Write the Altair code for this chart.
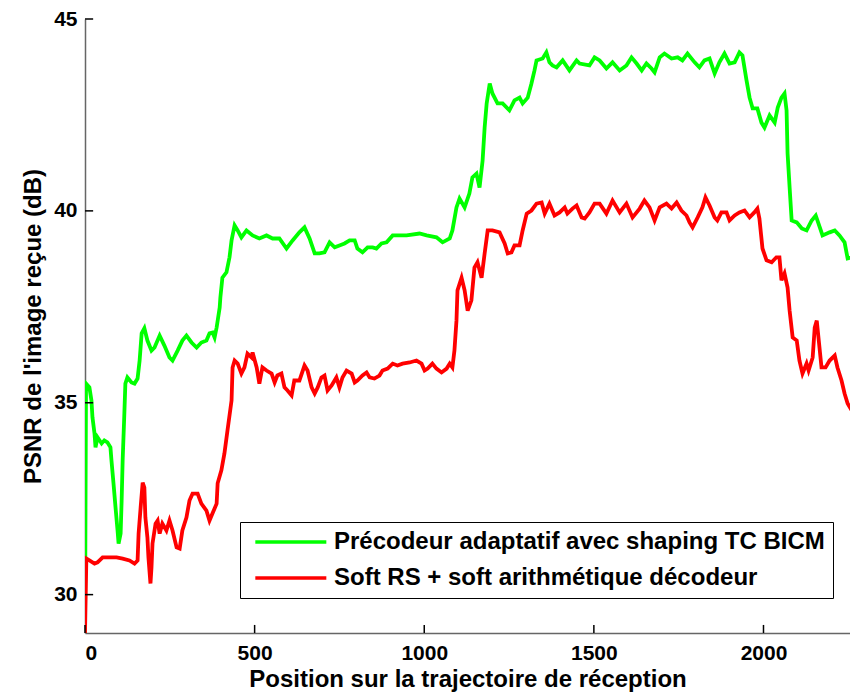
import altair as alt
import pandas as pd

green_label = "Précodeur adaptatif avec shaping TC BICM"
red_label = "Soft RS + soft arithmétique décodeur"

green_x = [0, 3, 13, 19, 22, 28, 31, 37, 49, 57, 66, 75, 78, 84, 90, 96, 99, 105, 108, 111,
           116, 119, 125, 137, 146, 155, 161, 167, 175, 184, 196, 205, 220, 234, 249, 258, 273, 287, 299, 314,
           329, 343, 358, 367, 376, 382, 388, 397, 399, 405, 417, 426, 432, 441, 450, 461, 476, 494, 514, 535,
           553, 573, 594, 612, 632, 647, 662, 677, 691, 706, 721, 736, 750, 765, 780, 795, 803, 818, 833, 848,
           859, 874, 889, 907, 948, 986, 1007, 1036, 1054, 1075, 1083, 1095, 1104, 1119, 1133, 1142, 1154, 1163, 1172, 1178,
           1184, 1193, 1201, 1216, 1231, 1251, 1266, 1281, 1290, 1305, 1316, 1325, 1331, 1349, 1360, 1369, 1378, 1390, 1408, 1428,
           1449, 1458, 1487, 1502, 1517, 1537, 1555, 1576, 1596, 1611, 1626, 1641, 1655, 1670, 1679, 1694, 1708, 1729, 1747, 1761,
           1776, 1797, 1811, 1826, 1841, 1856, 1870, 1885, 1900, 1915, 1929, 1938, 1950, 1959, 1968, 1982, 1994, 2003, 2018, 2033,
           2042, 2053, 2062, 2068, 2071, 2077, 2083, 2098, 2113, 2127, 2142, 2154, 2166, 2174, 2195, 2210, 2224, 2239, 2248, 2260,
           2263, 2274, 2277]
green_y = [29.0, 35.5, 35.40, 35.06, 34.62, 34.20, 33.84, 34.10, 33.94, 34.02, 33.97, 33.84, 33.50, 32.90, 32.27, 31.67, 31.33, 31.59, 32.45, 33.50,
           34.72, 35.50, 35.66, 35.53, 35.50, 35.63, 36.10, 36.81, 36.94, 36.62, 36.36, 36.44, 36.75, 36.49, 36.18, 36.10, 36.36, 36.62, 36.75, 36.57,
           36.44, 36.57, 36.62, 36.81, 36.83, 36.70, 36.96, 37.48, 37.74, 38.26, 38.40, 38.79, 39.23, 39.62, 39.49, 39.31, 39.49, 39.36, 39.28, 39.36,
           39.28, 39.28, 39.02, 39.23, 39.44, 39.57, 39.28, 38.89, 38.89, 38.92, 39.18, 39.05, 39.10, 39.15, 39.23, 39.23, 39.02, 38.92, 39.05, 39.05,
           39.02, 39.15, 39.18, 39.36, 39.36, 39.41, 39.36, 39.31, 39.18, 39.28, 39.49, 40.09, 40.32, 40.09, 40.45, 40.87, 40.97, 40.61, 41.31, 42.17,
           42.80, 43.32, 43.06, 42.80, 42.80, 42.62, 42.88, 42.95, 42.80, 42.95, 43.32, 43.66, 43.92, 43.97, 44.13, 43.87, 43.79, 43.74, 43.92, 43.66,
           43.92, 43.84, 43.79, 44.00, 43.92, 43.71, 43.87, 43.66, 43.79, 44.00, 43.84, 43.66, 43.84, 43.71, 43.61, 44.00, 44.10, 43.97, 44.00, 43.92,
           44.10, 43.87, 43.74, 43.92, 43.97, 43.58, 43.87, 44.10, 43.84, 43.87, 44.13, 44.05, 43.40, 42.95, 42.67, 42.67, 42.30, 42.17, 42.49, 42.30,
           42.69, 42.95, 43.06, 42.62, 41.50, 40.61, 39.75, 39.70, 39.54, 39.49, 39.75, 39.88, 39.57, 39.36, 39.44, 39.49, 39.36, 39.18, 38.76, 38.79,
           39.02, 38.71, 38.45]

red_x = [0, 4, 13, 28, 37, 52, 72, 93, 111, 131, 146, 155, 158, 164, 170, 175, 178, 184, 187, 193,
         196, 199, 208, 214, 220, 228, 240, 249, 258, 270, 279, 287, 299, 308, 317, 332, 343, 358, 367, 376,
         388, 391, 402, 411, 420, 432, 435, 441, 450, 461, 470, 479, 491, 494, 506, 514, 523, 535, 550, 559,
         567, 579, 588, 597, 609, 617, 632, 647, 656, 668, 677, 686, 697, 706, 715, 727, 741, 750, 759, 771,
         786, 795, 803, 818, 830, 839, 853, 868, 877, 892, 907, 921, 936, 957, 977, 992, 1001, 1010, 1024, 1036,
         1051, 1066, 1075, 1083, 1089, 1095, 1098, 1110, 1119, 1128, 1139, 1148, 1157, 1169, 1178, 1187, 1201, 1222, 1237, 1246,
         1257, 1266, 1281, 1290, 1302, 1316, 1331, 1346, 1355, 1369, 1384, 1399, 1414, 1422, 1437, 1449, 1464, 1473, 1487, 1502,
         1517, 1537, 1555, 1576, 1596, 1614, 1635, 1649, 1664, 1679, 1694, 1714, 1729, 1744, 1758, 1773, 1782, 1791, 1806, 1820,
         1829, 1841, 1856, 1864, 1876, 1891, 1900, 1915, 1929, 1944, 1959, 1973, 1982, 1988, 1997, 2009, 2024, 2038, 2047, 2053,
         2062, 2071, 2077, 2086, 2098, 2106, 2115, 2127, 2133, 2145, 2151, 2157, 2163, 2171, 2183, 2195, 2210, 2218, 2230, 2239,
         2248, 2260, 2269, 2277]
red_y = [29.0, 30.94, 30.89, 30.81, 30.84, 30.97, 30.97, 30.97, 30.94, 30.89, 30.81, 30.89, 31.59, 32.27, 32.92, 32.79, 32.01, 31.49, 30.97, 30.29,
         30.71, 31.33, 31.85, 31.93, 31.59, 31.85, 31.67, 31.93, 31.67, 31.23, 31.20, 31.67, 32.01, 32.45, 32.63, 32.63, 32.37, 32.19, 31.93, 32.12,
         32.37, 32.90, 33.24, 33.68, 34.28, 35.06, 35.92, 36.10, 36.02, 35.76, 35.92, 36.28, 36.18, 36.31, 35.92, 35.50, 35.92, 35.84, 35.76, 35.53,
         35.71, 35.76, 35.40, 35.32, 35.19, 35.58, 35.58, 35.97, 35.84, 35.40, 35.24, 35.40, 35.66, 35.71, 35.32, 35.45, 35.66, 35.40, 35.66, 35.84,
         35.76, 35.53, 35.58, 35.71, 35.79, 35.66, 35.63, 35.71, 35.84, 35.89, 36.02, 35.97, 36.02, 36.05, 36.10, 36.02, 35.84, 35.89, 36.02, 35.89,
         35.79, 35.89, 36.02, 35.92, 36.36, 37.14, 37.93, 38.26, 37.93, 37.40, 37.67, 38.52, 38.66, 38.26, 38.89, 39.49, 39.49, 39.44, 39.15, 38.89,
         38.92, 39.10, 39.10, 39.49, 39.93, 40.01, 40.19, 40.22, 39.93, 40.19, 39.88, 39.96, 40.09, 39.93, 40.06, 40.14, 39.83, 39.80, 39.96, 40.19,
         40.19, 39.93, 40.27, 39.96, 40.19, 39.83, 40.06, 40.27, 40.09, 39.75, 40.09, 40.19, 40.06, 40.22, 40.01, 39.88, 39.70, 39.57, 39.83, 40.09,
         40.35, 40.14, 39.83, 39.75, 39.96, 39.96, 39.75, 39.88, 39.96, 40.01, 39.83, 39.96, 40.06, 39.80, 39.02, 38.71, 38.66, 38.79, 38.79, 38.19,
         38.37, 38.00, 37.40, 36.70, 36.62, 36.10, 35.76, 36.02, 35.84, 36.18, 36.96, 37.14, 36.62, 35.92, 35.92, 36.10, 36.23, 35.92, 35.58, 35.24,
         34.98, 34.80, 34.85, 35.14]

x_ticks = [0, 500, 1000, 1500, 2000]
y_ticks = [30, 35, 40, 45]
x_domain = [0, 2255]
y_domain = [29, 45]

FONT = "Liberation Sans"

df = pd.concat([
    pd.DataFrame({"x": green_x, "y": green_y, "serie": green_label, "ordre": 0}),
    pd.DataFrame({"x": red_x, "y": red_y, "serie": red_label, "ordre": 1}),
])

xs = alt.Scale(domain=x_domain, nice=False, zero=False)
ys = alt.Scale(domain=y_domain, nice=False, zero=False)

lines = alt.Chart(df).mark_line(strokeWidth=3.8, clip=True).encode(
    x=alt.X("x:Q", scale=xs, axis=alt.Axis(
        values=x_ticks, format="d", title="Position sur la trajectoire de réception",
        grid=False, ticks=False, labelPadding=9, titlePadding=4)),
    y=alt.Y("y:Q", scale=ys, axis=alt.Axis(
        values=y_ticks, format="d", title="PSNR de l'image reçue (dB)",
        grid=False, ticks=False, labelPadding=8, titlePadding=8)),
    color=alt.Color("serie:N", scale=alt.Scale(domain=[green_label, red_label], range=["#00ff00", "#ff0000"]),
                    legend=alt.Legend(title=None, orient="none", legendX=155, legendY=503,
                                      symbolType="M-0.52,0H7.37", symbolSize=324, symbolStrokeWidth=3.5,
                                      labelFont=FONT, labelFontSize=24, labelFontWeight="bold",
                                      labelColor="black", labelLimit=1000, labelOffset=62,
                                      strokeColor="black", fillColor="white", padding=8,
                                      rowPadding=12)),
    order="ordre:Q",
    detail="serie:N",
)

xtick_df = pd.DataFrame({"t": x_ticks})
ytick_df = pd.DataFrame({"t": y_ticks})

xticks = alt.Chart(xtick_df).mark_rule(color="black", strokeWidth=1.5).encode(
    x=alt.X("t:Q", scale=xs),
    y=alt.Y("y0:Q", scale=ys),
    y2="y1:Q",
).transform_calculate(y0="29", y1="29.21")

yticks = alt.Chart(ytick_df).mark_rule(color="black", strokeWidth=1.5).encode(
    y=alt.Y("t:Q", scale=ys),
    x=alt.X("x0:Q", scale=xs),
    x2="x1:Q",
).transform_calculate(x0="0", x1="24")

chart = alt.layer(lines, xticks, yticks).properties(
    width=765, height=614,
    autosize=alt.AutoSizeParams(type="none"),
    padding={"left": 77, "top": 11, "right": 0, "bottom": 59},
).configure_view(stroke=None).configure_axis(
    labelFont=FONT, labelFontSize=21, labelFontWeight="bold", labelColor="black",
    titleFont=FONT, titleFontSize=24, titleFontWeight="bold", titleColor="black",
    domainColor="#666666", domainWidth=1.5,
)

chart.save("out.html", embed_options={"renderer": "svg", "actions": False})
